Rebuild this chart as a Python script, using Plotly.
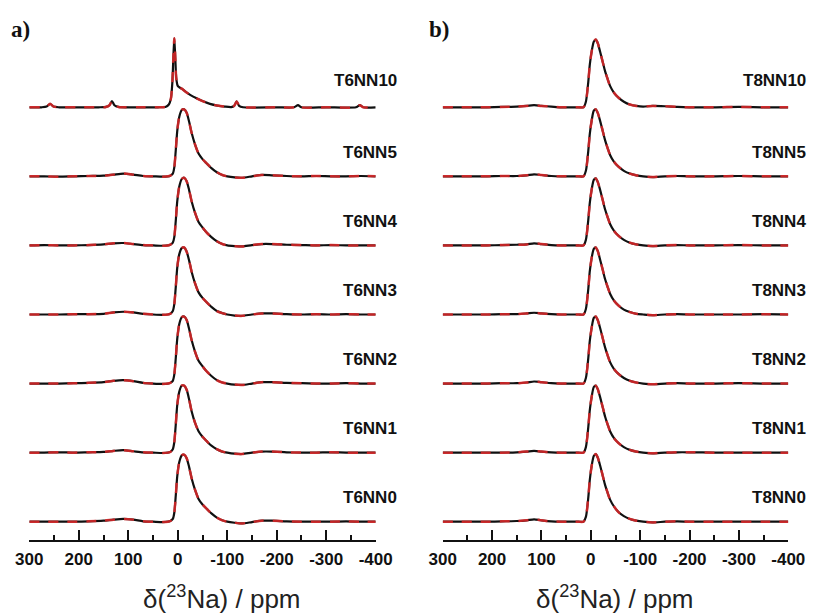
import plotly.graph_objects as go

# ---------------- data ----------------
tick_vals = [300, 200, 100, 0, -100, -200, -300, -400]
tick_text = ["300", "200", "100", "0", "-100", "-200", "-300", "-400"]
minor_vals = [250, 150, 50, -50, -150, -250, -350]

labels_a = ["T6NN0", "T6NN1", "T6NN2", "T6NN3", "T6NN4", "T6NN5", "T6NN10"]
labels_b = ["T8NN0", "T8NN1", "T8NN2", "T8NN3", "T8NN4", "T8NN5", "T8NN10"]

ppm_a = [300, 270, 240, 210, 180, 150, 130, 110, 90, 70, 50, 30, 20, 15, 10, 7, 4, 1,
         -3, -8, -13, -18, -23, -28, -35, -42, -50, -58, -68, -79, -90, -100, -115,
         -130, -150, -170, -190, -220, -250, -280, -310, -340, -370, -400]

t6nn0 = [0.0, 0.0, 0.0, 0.0, 0.005, 0.015, 0.03, 0.04, 0.03, 0.005, 0.0, -0.005, 0.0, 0.01,
         0.04, 0.13, 0.38, 0.66, 0.86, 0.96, 0.97, 0.92, 0.79, 0.63, 0.46, 0.33, 0.25, 0.19,
         0.12, 0.06, 0.02, 0.0, -0.015, -0.025, -0.005, 0.015, 0.015, 0.005, 0.0, 0.0, 0.0,
         0.005, 0.0, 0.0]
t6nn1 = [0.0, 0.0, 0.005, 0.0, 0.005, 0.01, 0.025, 0.035, 0.02, 0.005, 0.0, -0.005, 0.0, 0.01,
         0.05, 0.15, 0.41, 0.69, 0.88, 0.97, 0.97, 0.91, 0.77, 0.6, 0.43, 0.31, 0.23, 0.17,
         0.1, 0.05, 0.015, 0.0, -0.015, -0.02, 0.0, 0.015, 0.015, 0.005, 0.0, 0.0, 0.005,
         0.0, 0.0, 0.0]
t6nn2 = [0.0, 0.0, 0.0, 0.005, 0.01, 0.02, 0.04, 0.05, 0.035, 0.01, 0.0, -0.005, 0.0, 0.01,
         0.04, 0.13, 0.37, 0.65, 0.86, 0.96, 0.97, 0.92, 0.79, 0.63, 0.46, 0.33, 0.25, 0.18,
         0.11, 0.05, 0.015, 0.0, -0.015, -0.02, 0.0, 0.02, 0.02, 0.01, 0.005, 0.0, 0.0,
         0.005, 0.0, 0.0]
t6nn3 = [0.0, 0.0, 0.0, 0.005, 0.005, 0.01, 0.03, 0.04, 0.03, 0.01, 0.0, -0.005, 0.0, 0.01,
         0.05, 0.15, 0.4, 0.68, 0.87, 0.96, 0.97, 0.91, 0.78, 0.62, 0.45, 0.32, 0.24, 0.18,
         0.11, 0.05, 0.02, 0.0, -0.015, -0.02, 0.0, 0.015, 0.015, 0.005, 0.0, 0.005, 0.0,
         0.005, 0.0, 0.0]
t6nn4 = [0.0, 0.005, 0.0, 0.0, 0.005, 0.015, 0.03, 0.035, 0.02, 0.005, 0.0, -0.005, 0.0, 0.01,
         0.04, 0.12, 0.36, 0.64, 0.85, 0.96, 0.98, 0.93, 0.8, 0.64, 0.47, 0.34, 0.26, 0.19,
         0.12, 0.06, 0.02, 0.0, -0.01, -0.015, 0.005, 0.02, 0.02, 0.01, 0.005, 0.0, 0.005,
         0.0, 0.0, 0.0]
t6nn5 = [0.0, 0.0, -0.005, 0.0, 0.005, 0.01, 0.025, 0.04, 0.025, 0.005, 0.0, -0.005, 0.0, 0.01,
         0.04, 0.13, 0.38, 0.66, 0.86, 0.96, 0.97, 0.92, 0.79, 0.63, 0.46, 0.33, 0.25, 0.19,
         0.12, 0.06, 0.02, 0.0, -0.015, -0.02, 0.0, 0.02, 0.015, 0.005, 0.0, 0.005, 0.0,
         0.0, 0.005, 0.0]

ppm_t6nn10 = [300, 275, 265, 258, 251, 240, 200, 160, 145, 138, 133, 128, 120, 80, 40, 25,
              18, 14, 11, 9, 7, 5, 3, 0, -3, -8, -15, -25, -38, -50, -65, -80, -95, -108,
              -114, -119, -124, -132, -200, -235, -243, -250, -300, -360, -368, -375, -400]
t6nn10 = [0, 0, 0.01, 0.05, 0.01, 0, 0, 0, 0.005, 0.03, 0.09, 0.03, 0.005, 0, 0, 0.005,
          0.04, 0.12, 0.35, 0.7, 1.0, 0.72, 0.42, 0.31, 0.29, 0.27, 0.23, 0.18, 0.13, 0.09,
          0.05, 0.025, 0.01, 0.003, 0.02, 0.085, 0.02, 0, 0, 0, 0.03, 0, 0, 0, 0.03, 0, 0]

ppm_b = [300, 270, 240, 210, 180, 150, 130, 115, 100, 80, 60, 40, 25, 15, 10, 5, 2, -2, -6,
         -10, -14, -19, -24, -29, -34, -39, -47, -56, -67, -79, -92, -106, -125, -150, -175,
         -200, -250, -300, -350, -400]

t8nn0 = [0, 0, 0, 0, 0.005, 0.01, 0.02, 0.035, 0.02, 0.005, 0, 0, 0, 0.0, 0.07, 0.36,
         0.61, 0.82, 0.95, 0.98, 0.93, 0.81, 0.67, 0.53, 0.42, 0.32, 0.22, 0.14, 0.08, 0.04,
         0.015, 0.0, -0.01, 0.0, 0.005, 0.0, 0.0, 0.0, 0.0, 0.0]
t8nn1 = [0, 0, 0, 0, 0.0, 0.005, 0.015, 0.025, 0.015, 0.005, 0, 0, 0, 0.0, 0.08, 0.38,
         0.62, 0.82, 0.95, 0.97, 0.92, 0.8, 0.66, 0.52, 0.41, 0.31, 0.21, 0.14, 0.08, 0.04,
         0.015, 0.0, -0.01, 0.0, 0.005, 0.005, 0.0, 0.0, 0.0, 0.0]
t8nn2 = [0, 0, 0, 0, 0.005, 0.005, 0.015, 0.03, 0.02, 0.005, 0, 0, 0, 0.0, 0.08, 0.38,
         0.62, 0.82, 0.95, 0.97, 0.92, 0.8, 0.66, 0.52, 0.41, 0.31, 0.21, 0.14, 0.08, 0.04,
         0.015, 0.0, -0.01, 0.0, 0.005, 0.0, 0.0, 0.005, 0.0, 0.0]
t8nn3 = [0, 0, 0, 0, 0.005, 0.005, 0.015, 0.025, 0.015, 0.005, 0, 0, 0, 0.0, 0.08, 0.38,
         0.63, 0.83, 0.95, 0.97, 0.92, 0.79, 0.65, 0.51, 0.4, 0.3, 0.2, 0.13, 0.07, 0.035,
         0.01, 0.0, -0.01, 0.0, 0.005, 0.0, 0.0, 0.0, 0.005, 0.0]
t8nn4 = [0, 0, 0, 0, 0.005, 0.01, 0.015, 0.03, 0.02, 0.005, 0, 0, 0, 0.0, 0.08, 0.38,
         0.62, 0.82, 0.95, 0.97, 0.92, 0.8, 0.66, 0.52, 0.41, 0.31, 0.21, 0.14, 0.08, 0.04,
         0.015, 0.0, -0.01, 0.0, 0.005, 0.0, 0.0, 0.005, 0.0, 0.0]
t8nn5 = [0, 0, 0, 0, 0.005, 0.005, 0.015, 0.03, 0.02, 0.005, 0, 0, 0, 0.0, 0.08, 0.38,
         0.62, 0.82, 0.95, 0.97, 0.92, 0.8, 0.66, 0.52, 0.41, 0.31, 0.21, 0.14, 0.08, 0.04,
         0.015, 0.0, -0.01, 0.0, 0.005, 0.0, 0.0, 0.005, 0.0, 0.0]
t8nn10 = [0, 0, 0, 0, 0.005, 0.01, 0.02, 0.03, 0.02, 0.01, 0, 0, 0, 0.0, 0.08, 0.38,
          0.62, 0.82, 0.95, 0.98, 0.93, 0.8, 0.66, 0.52, 0.41, 0.31, 0.21, 0.14, 0.08, 0.04,
          0.02, 0.01, 0.02, 0.015, 0.005, 0.0, 0.0, 0.005, 0.0, 0.0]

spectra_a = [(ppm_a, t6nn0), (ppm_a, t6nn1), (ppm_a, t6nn2), (ppm_a, t6nn3),
             (ppm_a, t6nn4), (ppm_a, t6nn5), (ppm_t6nn10, t6nn10)]
spectra_b = [(ppm_b, t8nn0), (ppm_b, t8nn1), (ppm_b, t8nn2), (ppm_b, t8nn3),
             (ppm_b, t8nn4), (ppm_b, t8nn5), (ppm_b, t8nn10)]

for xs, ys in spectra_a + spectra_b:
    assert len(xs) == len(ys), (len(xs), len(ys))

# ---------------- figure ----------------
W, H = 824, 613
BLACK = "#111111"
RED = "#e0282a"
FONT = "Liberation Sans, Arial, sans-serif"

fig = go.Figure()

for panel, spectra in (("a", spectra_a), ("b", spectra_b)):
    xaxis = "x" if panel == "a" else "x2"
    yaxis = "y" if panel == "a" else "y2"
    for i, (xs, ys) in enumerate(spectra):
        yv = [i + v for v in ys]
        fig.add_trace(go.Scatter(x=xs, y=yv, mode="lines", xaxis=xaxis, yaxis=yaxis,
                                 line=dict(color=BLACK, width=2.2, shape="spline", smoothing=0.7),
                                 hoverinfo="skip"))
        fig.add_trace(go.Scatter(x=xs, y=yv, mode="lines", xaxis=xaxis, yaxis=yaxis,
                                 line=dict(color=RED, width=2.5, dash="10px,9px",
                                           shape="spline", smoothing=0.7),
                                 opacity=0.85, hoverinfo="skip"))

def px_x(p):
    return p / W

def px_y(p):
    return (H - p) / H

axis_common = dict(
    range=[300, -400], showline=True, linecolor=BLACK, linewidth=2,
    ticks="inside", ticklen=10, tickwidth=2, tickcolor=BLACK,
    tickmode="array", tickvals=tick_vals, ticktext=tick_text,
    tickfont=dict(family=FONT, size=17, color=BLACK, weight="bold"),
    ticklabelstandoff=3,
    showgrid=False, zeroline=False, automargin=False,
    minor=dict(tickmode="array", tickvals=minor_vals, ticks="inside", ticklen=5,
               tickwidth=1.5, tickcolor=BLACK, showgrid=False),
)
y_bottom = -(540 - 521.7) / 69.07
y_top = 521.7 / 69.07
yaxis_common = dict(range=[y_bottom, y_top], domain=[px_y(540), 1.0], visible=False,
                    automargin=False)

fig.update_layout(
    width=W, height=H, margin=dict(l=0, r=0, t=0, b=0, pad=0, autoexpand=False),
    plot_bgcolor="white", paper_bgcolor="white", showlegend=False,
    xaxis=dict(domain=[px_x(29.3), px_x(375.7)], anchor="y", **axis_common),
    xaxis2=dict(domain=[px_x(442.7), px_x(788.3)], anchor="y2", **axis_common),
    yaxis=dict(anchor="x", **yaxis_common),
    yaxis2=dict(anchor="x2", **yaxis_common),
)

ann = []
for i, lab in enumerate(labels_a):
    off = 0.39 if i == 6 else 0.35
    ann.append(dict(text=lab, x=px_x(399), xref="paper", y=i + off, yref="y",
                    xanchor="right", yanchor="middle", showarrow=False,
                    font=dict(family=FONT, size=17, color=BLACK, weight="bold")))
for i, lab in enumerate(labels_b):
    off = 0.39 if i == 6 else 0.35
    ann.append(dict(text=lab, x=px_x(808), xref="paper", y=i + off, yref="y2",
                    xanchor="right", yanchor="middle", showarrow=False,
                    font=dict(family=FONT, size=17, color=BLACK, weight="bold")))
for cx in (222, 615):
    ann.append(dict(text="δ(<sup>23</sup>Na) / ppm", x=px_x(cx), xref="paper",
                    y=px_y(597), yref="paper", xanchor="center", yanchor="middle",
                    showarrow=False, font=dict(family=FONT, size=26, color="#222222")))
for txt, lx in (("a)", 9), ("b)", 427)):
    ann.append(dict(text=txt, x=px_x(lx), xref="paper", y=px_y(29), yref="paper",
                    xanchor="left", yanchor="middle", showarrow=False,
                    font=dict(family="Liberation Serif, Times New Roman, serif", size=23,
                              color=BLACK, weight="bold")))
fig.update_layout(annotations=ann)

fig.write_html("out.html")
